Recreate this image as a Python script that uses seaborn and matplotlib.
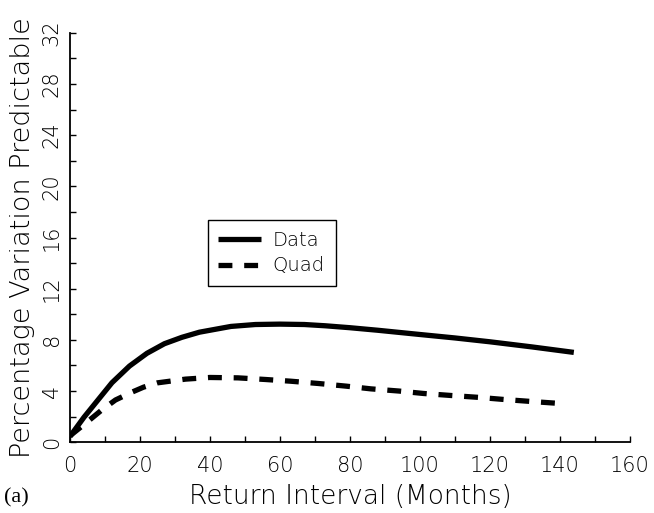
import matplotlib
matplotlib.use("Agg")
import matplotlib.pyplot as plt
import seaborn as sns
import pandas as pd
from matplotlib.ticker import MultipleLocator

# Data
data_x = [0, 4, 8, 12, 17, 22, 27, 32, 37, 46, 53, 60, 67, 73, 80, 88, 100, 110, 120, 132, 144]
data_y = [0.45, 1.95, 3.3, 4.65, 5.95, 6.95, 7.7, 8.2, 8.6, 9.05, 9.2, 9.23, 9.2, 9.1, 8.95, 8.75, 8.42, 8.15, 7.85, 7.45, 7.02]
quad_x = [0, 5, 9, 13, 17.6, 21, 25, 33, 40, 48, 56, 63, 71, 79, 86, 94, 101, 109, 117, 124, 132, 141.5]
quad_y = [0.5, 1.6, 2.5, 3.3, 3.9, 4.3, 4.64, 4.93, 5.06, 5.03, 4.9, 4.77, 4.59, 4.38, 4.17, 4.0, 3.81, 3.65, 3.5, 3.34, 3.18, 3.0]
series_names = ["Data", "Quad"]
x_ticks = [0, 20, 40, 60, 80, 100, 120, 140, 160]
y_ticks = [0, 4, 8, 12, 16, 20, 24, 28, 32]

df = pd.concat([
    pd.DataFrame({"x": data_x, "y": data_y, "s": series_names[0]}),
    pd.DataFrame({"x": quad_x, "y": quad_y, "s": series_names[1]}),
])

sns.set_style("white")
plt.rcParams["font.family"] = ["DejaVu Sans"]
plt.rcParams["lines.scale_dashes"] = False
for key in ["text.color", "axes.labelcolor", "xtick.color", "ytick.color"]:
    plt.rcParams[key] = "black"

fig = plt.figure(figsize=(6.54, 5.13), dpi=100)
ax = fig.add_axes([0.107, 0.138, 0.856, 0.798])

sns.lineplot(data=df, x="x", y="y", hue="s", style="s",
             palette={"Data": "black", "Quad": "black"},
             dashes={"Data": "", "Quad": (10, 8.5)},
             linewidth=3.8, ax=ax, sort=False, estimator=None)

for ln in ax.lines:
    ln.set_solid_capstyle("butt")
    ln.set_dash_capstyle("butt")

ax.set_xlim(0, 160)
ax.set_ylim(0, 32)
ax.set_xticks(x_ticks)
ax.set_yticks(y_ticks)
ax.xaxis.set_minor_locator(MultipleLocator(10))
ax.yaxis.set_minor_locator(MultipleLocator(2))
ax.tick_params(which="both", direction="in", length=4, width=1, color="black",
               bottom=True, left=True, top=False, right=False)
ax.tick_params(axis="x", which="major", labelsize=15, pad=10)
ax.tick_params(axis="y", which="major", labelsize=15, pad=6)
for lab in ax.get_xticklabels():
    lab.set_fontweight("light")
for lab in ax.get_yticklabels():
    lab.set_rotation(90)
    lab.set_va("center")
    lab.set_fontweight("light")

for side in ["top", "right"]:
    ax.spines[side].set_visible(False)
for side in ["left", "bottom"]:
    ax.spines[side].set_color("black")
    ax.spines[side].set_linewidth(1.3)

ax.set_xlabel("Return Interval (Months)", fontsize=19, fontweight="light", labelpad=6)
ax.set_ylabel("Percentage Variation Predictable", fontsize=19.5, fontweight="light", labelpad=5)

leg = ax.legend(loc="upper left", bbox_to_anchor=(0.246, 0.543), fontsize=14,
                frameon=True, fancybox=False, edgecolor="black", framealpha=1,
                handlelength=2.2, handletextpad=0.6, borderpad=0.55,
                labelspacing=0.35, borderaxespad=0, title=None)
leg.get_frame().set_linewidth(1.0)
for t in leg.get_texts():
    t.set_fontweight("light")

fig.text(0.006, 0.03, "(a)", fontsize=16, family="Liberation Serif", ha="left", va="center")

fig.savefig("out.png", dpi=100)
